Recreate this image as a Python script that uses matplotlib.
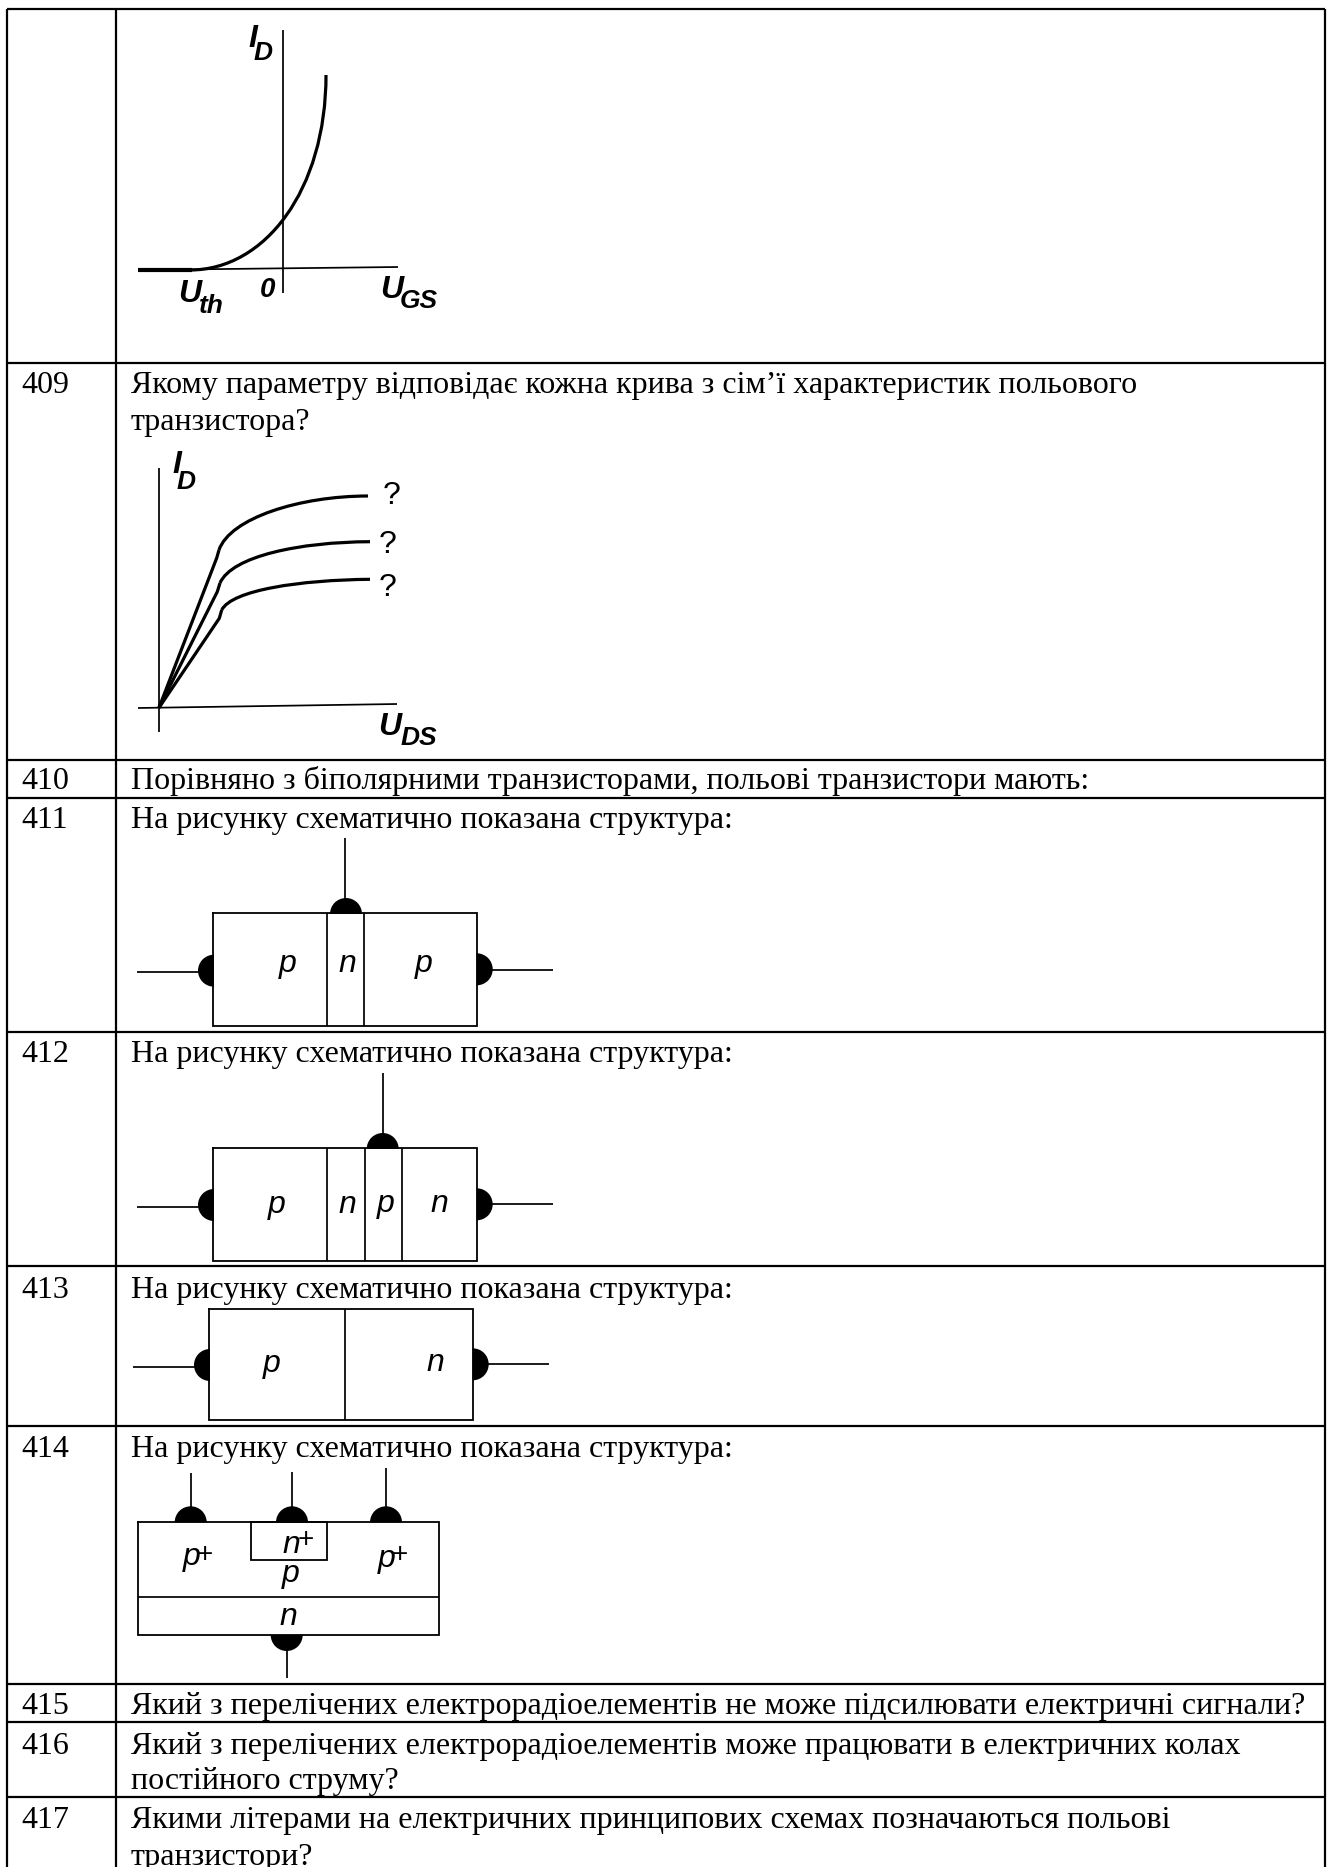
import matplotlib
matplotlib.use('Agg')
import matplotlib.pyplot as plt
from matplotlib.patches import Wedge, PathPatch
from matplotlib.path import Path

plt.rcParams['font.family'] = ['Liberation Serif']

W = 1330
H = 1867

# table grid in pixels
row_lines = [9, 362.7, 760, 798, 1032.3, 1266, 1426, 1684.3, 1722.3, 1797.3]
col_left = 7.3
col_mid = 116
col_right = 1325

numbers = ['409', '410', '411', '412', '413', '414', '415', '416', '417']
number_y = [393, 789, 828, 1062, 1298, 1457, 1714, 1754, 1828]

text_x = 131
rows_text = [
    (393, 'Якому параметру відповідає кожна крива з сім’ї характеристик польового'),
    (430, 'транзистора?'),
    (789, 'Порівняно з біполярними транзисторами, польові транзистори мають:'),
    (828, 'На рисунку схематично показана структура:'),
    (1062, 'На рисунку схематично показана структура:'),
    (1298, 'На рисунку схематично показана структура:'),
    (1457, 'На рисунку схематично показана структура:'),
    (1714, 'Який з перелічених електрорадіоелементів не може підсилювати електричні сигнали?'),
    (1754, 'Який з перелічених електрорадіоелементів може працювати в електричних колах'),
    (1789, 'постійного струму?'),
    (1828, 'Якими літерами на електричних принципових схемах позначаються польові'),
    (1865, 'транзистори?'),
]

# transfer curve, bezier control points
transfer_x = [190, 265, 326, 326]
transfer_y = [270, 270, 190, 75]

# output curves: straight part up to the knee, then a bezier
knee1_x = [159, 216.7, 219]
knee1_y = [707.7, 558, 550]
bend1_x = [219, 230, 300, 368]
bend1_y = [550, 518, 496, 496]

knee2_x = [159, 217.3, 220]
knee2_y = [707.7, 591.7, 583]
bend2_x = [220, 232, 300, 370]
bend2_y = [583, 556, 542, 541.7]

knee3_x = [159, 219.3, 221.7]
knee3_y = [707.7, 618.3, 610]
bend3_x = [221.7, 232, 300, 370]
bend3_y = [610, 590, 580, 579.3]


def line(xs, ys, lw=1.25):
    ax.plot(xs, ys, color='black', lw=lw, solid_capstyle='butt', solid_joinstyle='miter')


def curve(xs, ys, lw=2.3):
    codes = [Path.MOVETO, Path.CURVE4, Path.CURVE4, Path.CURVE4]
    ax.add_patch(PathPatch(Path(list(zip(xs, ys)), codes), fc='none', ec='black', lw=lw, capstyle='butt'))


def label(x, y, s, size=23, weight='bold', style='italic'):
    ax.text(x, y, s, family='Liberation Sans', style=style, weight=weight, fontsize=size,
            ha='center', va='baseline', color='black')


def letter(x, y, s):
    label(x, y, s, 23, 'normal')


def plus(x, y):
    label(x, y + 9, '+', 20, 'normal', 'normal')


def box(x0, y0, x1, y1, lw=1.3):
    ax.plot([x0, x1, x1, x0, x0], [y0, y0, y1, y1, y0], color='black', lw=lw, solid_joinstyle='miter')


def dome(x, y, start, end, r=16):
    # y axis is inverted, so angles run clockwise on screen
    ax.add_patch(Wedge((x, y), r, start, end, color='black', lw=0, zorder=3))


fig = plt.figure(figsize=(W / 100, H / 100), dpi=100)
ax = fig.add_axes([0, 0, 1, 1])
ax.set_xlim(0, W)
ax.set_ylim(H, 0)
ax.axis('off')

for y in row_lines:
    line([col_left, col_right], [y, y], 1.6)
for x in [col_left, col_mid, col_right]:
    line([x, x], [row_lines[0], H], 1.6)

for num, y in zip(numbers, number_y):
    ax.text(21.7, y, num, fontsize=23, va='baseline', ha='left', color='black')
for y, s in rows_text:
    ax.text(text_x, y, s, fontsize=23, va='baseline', ha='left', color='black')

# 408 diagram
line([283, 283], [30, 293])
line([138, 398], [270, 267])
curve(transfer_x, transfer_y, 2.3)
line([138, 192], [270, 270], 3.0)
label(253, 46.7, 'I')
label(263.3, 60, 'D', 19)
label(190, 301.7, 'U')
label(211, 312.7, 'th', 19)
label(268, 296.7, '0', 20)
label(392, 297.7, 'U')
label(419, 308, 'GS', 19)

# 409 diagram
line([159, 159], [468, 732])
line([138, 397], [708, 704])
for kx, ky, bx, by in [(knee1_x, knee1_y, bend1_x, bend1_y),
                       (knee2_x, knee2_y, bend2_x, bend2_y),
                       (knee3_x, knee3_y, bend3_x, bend3_y)]:
    line(kx, ky, 2.3)
    curve(bx, by, 2.3)
label(177, 473.3, 'I')
label(186, 489.3, 'D', 19)
label(390, 735, 'U')
label(418.5, 745, 'DS', 19)
label(392, 504, '?', 23, 'normal', 'normal')
label(388, 553.3, '?', 23, 'normal', 'normal')
label(388, 596, '?', 23, 'normal', 'normal')

# 411
box(213.3, 913.3, 477.3, 1026)
line([326.7, 326.7], [913.3, 1026])
line([364, 364], [913.3, 1026])
line([345.3, 345.3], [838, 900])
dome(346, 914, 180, 360)
dome(214, 970.7, 90, 270)
dome(476.7, 969.3, -90, 90)
line([137.3, 200], [971.7, 971.7])
line([490, 552.7], [970, 970])
letter(288, 971.7, 'p')
letter(347.7, 971.7, 'n')
letter(424, 971.7, 'p')

# 412
box(213.3, 1148.3, 477.3, 1260.7)
line([326.7, 326.7], [1148.3, 1260.7])
line([365, 365], [1148.3, 1260.7])
line([401.7, 401.7], [1148.3, 1260.7])
line([382.7, 382.7], [1073, 1135])
dome(382.7, 1149, 180, 360)
dome(214, 1205, 90, 270)
dome(476.7, 1204.3, -90, 90)
line([137.3, 200], [1206.7, 1206.7])
line([490, 552.7], [1204.3, 1204.3])
letter(276.7, 1213, 'p')
letter(347.3, 1212.7, 'n')
letter(386, 1211.7, 'p')
letter(439.3, 1211.7, 'n')

# 413
box(209.3, 1308.7, 473.3, 1420)
line([345.3, 345.3], [1308.7, 1420])
dome(210, 1365, 90, 270)
dome(472.7, 1364.3, -90, 90)
line([133.3, 196], [1366.7, 1366.7])
line([486, 549.3], [1364.3, 1364.3])
letter(271.7, 1371.7, 'p')
letter(435, 1371, 'n')

# 414
box(138.3, 1522.3, 439, 1635)
box(250.7, 1522.3, 326.7, 1560)
line([138.3, 439], [1597.3, 1597.3])
line([190.7, 190.7], [1473, 1510])
line([292, 292], [1471.7, 1510])
line([386, 386], [1467.7, 1510])
line([286.7, 286.7], [1648, 1678])
dome(190.7, 1522.3, 180, 360)
dome(292, 1522.3, 180, 360)
dome(386, 1522.3, 180, 360)
dome(286.7, 1635, 0, 180)
letter(191.7, 1565, 'p')
plus(205, 1552.7)
letter(291.7, 1553.3, 'n')
plus(306, 1538)
letter(290.7, 1581.7, 'p')
letter(386.7, 1566.7, 'p')
plus(400, 1552.7)
letter(288.3, 1625, 'n')

fig.savefig('out.png', dpi=100)
